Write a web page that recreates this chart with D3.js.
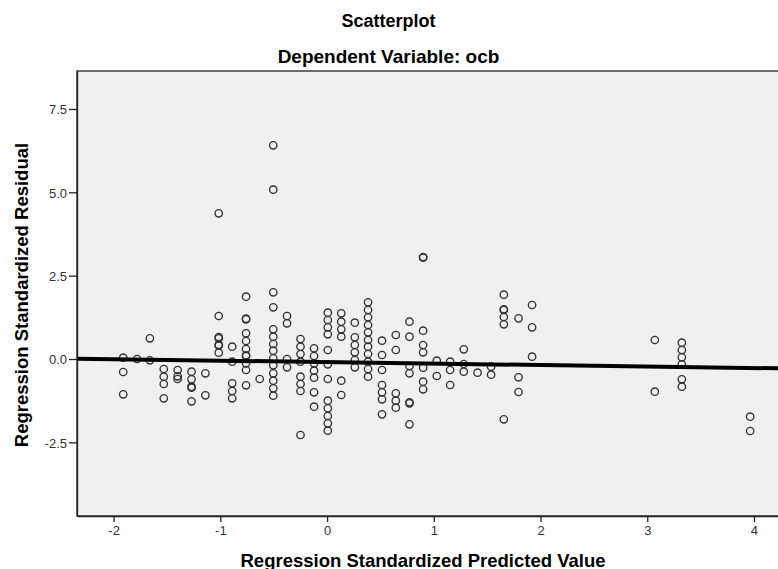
<!DOCTYPE html>
<html>
<head>
<meta charset="utf-8">
<script src="https://cdn.jsdelivr.net/npm/d3@7"></script>
<style>
  html, body { margin: 0; padding: 0; background: #fff; }
  svg { display: block; font-family: 'Liberation Sans', Arial, sans-serif; }
</style>
</head>
<body>
<svg id="chart" width="778" height="569"></svg>
<script>
// predicted value columns (x) and the residuals found in each column (y)
const predicted = [
  -1.91, -1.78, -1.66, -1.53, -1.40, -1.27, -1.14, -1.015, -0.889, -0.759,
  -0.631, -0.504, -0.375, -0.249, -0.122, 0.007, 0.133, 0.26, 0.384, 0.515,
  0.644, 0.772, 0.900, 1.028, 1.153, 1.281, 1.41, 1.537, 1.656, 1.794,
  1.921, 3.071, 3.324, 3.964
];
const residuals = [
  [0.04, -0.39, -1.06],
  [0.0],
  [0.62, -0.04],
  [-0.30, -0.53, -0.75, -1.18],
  [-0.33, -0.52, -0.60],
  [-0.38, -0.61, -0.83, -0.86, -1.27],
  [-0.43, -1.09],
  [4.37, 1.29, 0.66, 0.62, 0.43, 0.40, 0.19],
  [0.37, -0.08, -0.73, -0.96, -1.18],
  [1.87, 1.21, 1.19, 0.77, 0.54, 0.30, 0.11, 0.09, -0.13, -0.33, -0.79],
  [-0.60],
  [6.41, 5.08, 2.00, 1.55, 0.89, 0.67, 0.45, 0.25, 0.02, -0.19, -0.43, -0.65, -0.88, -1.10],
  [1.29, 1.07, 0.0, -0.25],
  [0.60, 0.37, 0.15, -0.08, -0.53, -0.75, -0.96, -2.28],
  [0.32, 0.09, -0.13, -0.35, -0.56, -1.00, -1.43],
  [1.39, 1.17, 0.95, 0.74, 0.27, -0.16, -0.60, -1.25, -1.48, -1.71, -1.93, -2.15],
  [1.37, 1.12, 0.89, 0.67, -0.65, -1.08],
  [1.09, 0.65, 0.42, 0.20, -0.03, -0.25],
  [1.70, 1.47, 1.25, 1.02, 0.80, 0.57, 0.37, 0.15, -0.08, -0.30, -0.53],
  [0.55, 0.12, -0.33, -0.78, -1.00, -1.21, -1.66],
  [0.72, 0.27, -1.03, -1.25, -1.46],
  [1.12, 0.67, -0.21, -0.43, -1.30, -1.33, -1.96],
  [3.06, 3.04, 0.85, 0.42, 0.20, -0.26, -0.68, -0.91],
  [-0.05, -0.51],
  [-0.08, -0.33, -0.78],
  [0.29, -0.15, -0.38],
  [-0.41],
  [-0.23, -0.47],
  [1.93, 1.49, 1.47, 1.26, 1.04, -1.81],
  [1.22, -0.55, -0.99],
  [1.62, 0.95, 0.07],
  [0.57, -0.98],
  [0.49, 0.27, 0.05, -0.16, -0.61, -0.83],
  [-1.73, -2.16]
];
// fit line through the residuals (value at the two ends of the x range)
const fitX = [-2.343, 4.3];
const fitY = [0.01, -0.283];

const xTicks = [-2, -1, 0, 1, 2, 3, 4];
const yTicks = [-2.5, 0, 2.5, 5, 7.5];

const points = [];
predicted.forEach((p, i) => {
  residuals[i].forEach(r => points.push({ x: p, y: r }));
});

const plot = { left: 77, top: 71, right: 786, bottom: 516 };

const x = d3.scaleLinear().domain([-2.343, 4.3]).range([plot.left, plot.right]);
const y = d3.scaleLinear().domain([-4.71, 8.64]).range([plot.bottom, plot.top]);

// plain hyphen for negative tick labels, like the original
const locale = d3.formatLocale({ decimal: '.', thousands: ',', grouping: [3], currency: ['', ''], minus: '-' });

const svg = d3.select('#chart');

svg.append('defs').append('clipPath').attr('id', 'clip')
  .append('rect')
  .attr('x', plot.left).attr('y', plot.top)
  .attr('width', plot.right - plot.left).attr('height', plot.bottom - plot.top);

// plot background and frame
svg.append('rect')
  .attr('x', plot.left).attr('y', plot.top)
  .attr('width', plot.right - plot.left).attr('height', plot.bottom - plot.top)
  .attr('fill', '#f0f0f0')
  .attr('stroke', '#222').attr('stroke-width', 1.3);

const marks = svg.append('g').attr('clip-path', 'url(#clip)');

marks.selectAll('circle')
  .data(points)
  .join('circle')
  .attr('cx', d => x(d.x))
  .attr('cy', d => y(d.y))
  .attr('r', 3.7)
  .attr('fill', 'none')
  .attr('stroke', '#333')
  .attr('stroke-width', 1.35);

const fitData = fitX.map((v, i) => ({ x: v, y: fitY[i] }));
marks.append('path')
  .datum(fitData)
  .attr('d', d3.line().x(d => x(d.x)).y(d => y(d.y)))
  .attr('stroke', '#000')
  .attr('stroke-width', 4)
  .attr('fill', 'none');

// axes
const xAxis = svg.append('g')
  .attr('transform', `translate(0,${plot.bottom})`)
  .call(d3.axisBottom(x).tickValues(xTicks).tickFormat(locale.format('d')).tickSize(6).tickSizeOuter(0));
const yAxis = svg.append('g')
  .attr('transform', `translate(${plot.left},0)`)
  .call(d3.axisLeft(y).tickValues(yTicks).tickFormat(locale.format('.1f')).tickSize(8).tickSizeOuter(0));

[xAxis, yAxis].forEach(g => {
  g.select('.domain').attr('stroke', '#222').attr('stroke-width', 1.3);
  g.selectAll('.tick line').attr('stroke', '#222').attr('stroke-width', 1.3);
  g.selectAll('.tick text')
    .attr('fill', '#333')
    .style('font-size', '13px')
    .style('font-family', "'Liberation Sans', Arial, sans-serif");
});
xAxis.selectAll('.tick text').attr('y', 10);
yAxis.selectAll('.tick text').attr('x', -10).attr('dy', '0.36em');

// titles
svg.append('text')
  .attr('x', 388.5).attr('y', 27)
  .attr('text-anchor', 'middle')
  .style('font-size', '18px').style('font-weight', 'bold')
  .text('Scatterplot');
svg.append('text')
  .attr('x', 388.5).attr('y', 62.5)
  .attr('text-anchor', 'middle')
  .style('font-size', '19px').style('font-weight', 'bold')
  .text('Dependent Variable: ocb');

svg.append('text')
  .attr('x', 423).attr('y', 566.5)
  .attr('text-anchor', 'middle')
  .style('font-size', '18.5px').style('font-weight', 'bold')
  .text('Regression Standardized Predicted Value');

svg.append('text')
  .attr('transform', 'translate(28,295) rotate(-90)')
  .attr('text-anchor', 'middle')
  .style('font-size', '18.5px').style('font-weight', 'bold')
  .text('Regression Standardized Residual');
</script>
</body>
</html>
